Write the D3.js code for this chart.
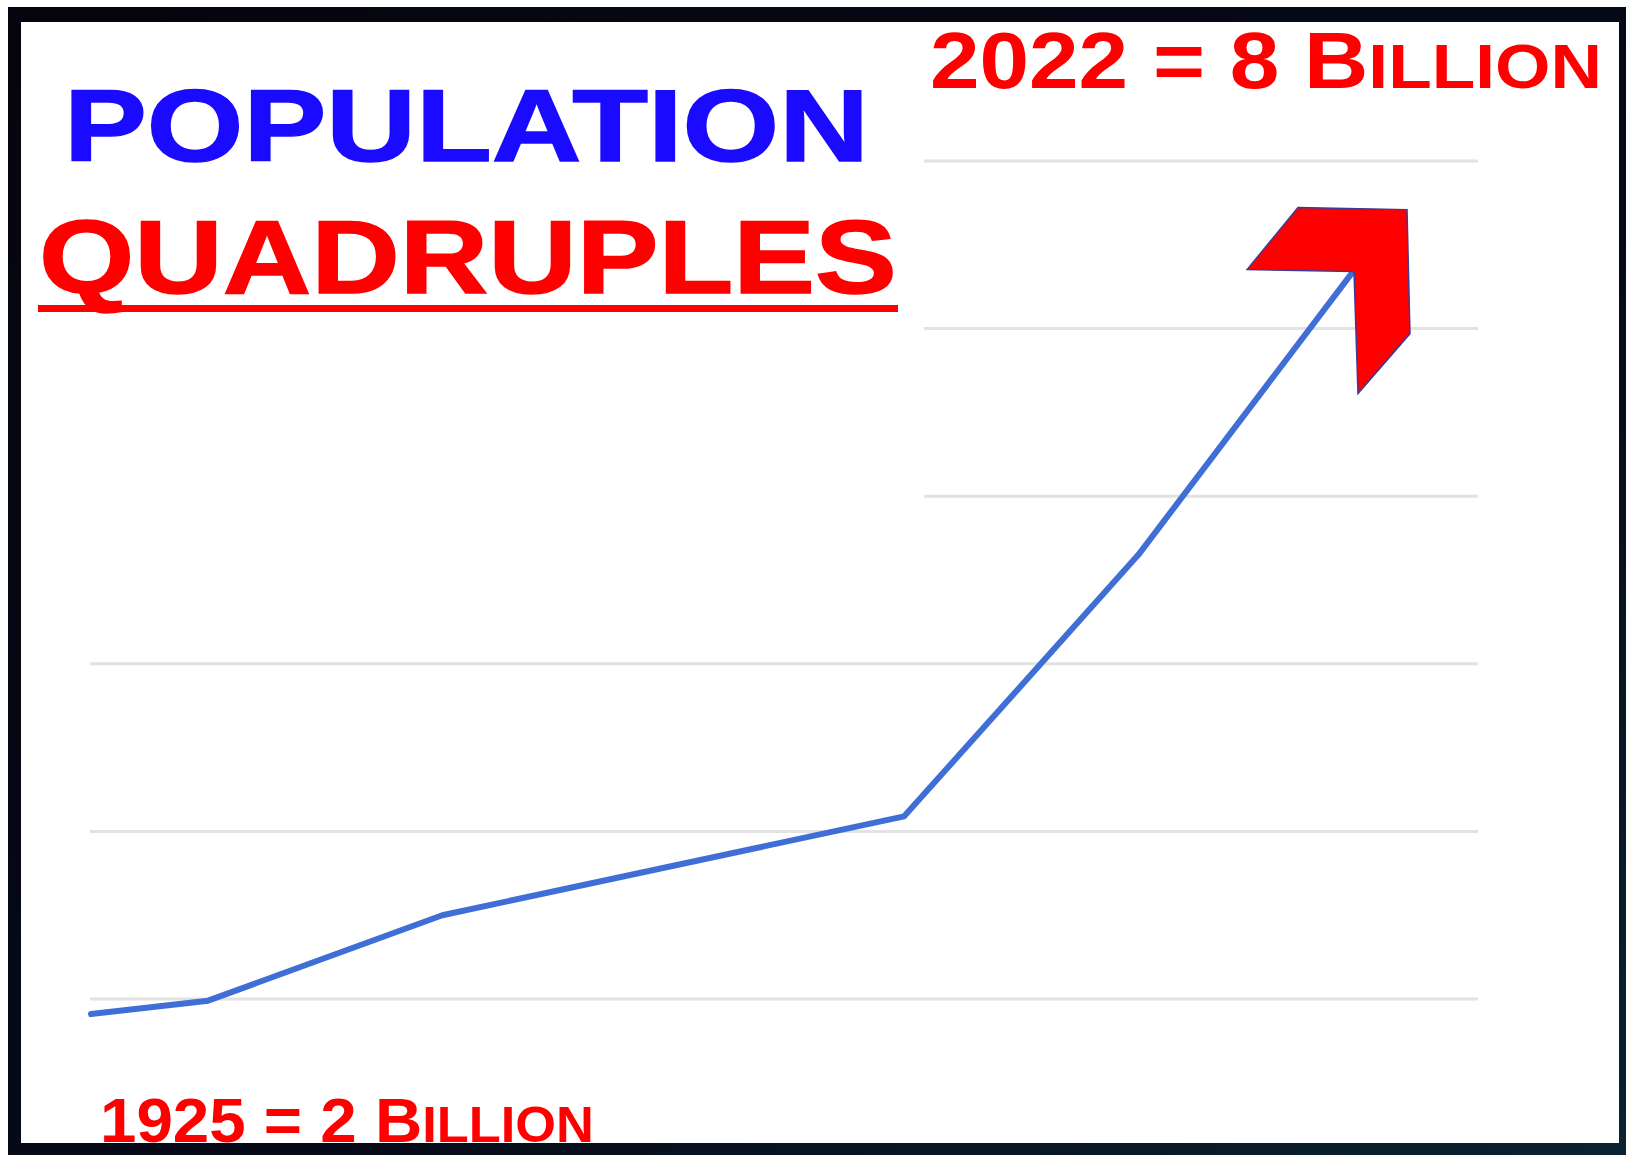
<!DOCTYPE html>
<html>
<head>
<meta charset="utf-8">
<script src="https://cdn.jsdelivr.net/npm/d3@7"></script>
<style>
  html, body { margin: 0; padding: 0; background: #ffffff; }
  svg { display: block; }
</style>
</head>
<body>
<svg id="chart" width="1626" height="1155"></svg>
<script>
// ---- data ----
const years = [1925, 1934, 1952, 1987.5, 2005.5, 2022];
const population = [1.91, 1.99, 2.50, 3.09, 4.65, 6.34]; // billions (as drawn)
const gridTicks = [2, 3, 4, 5, 6, 7];
const titleLines = ["POPULATION", "QUADRUPLES"];
const topLabel = { big: "2022 = 8 B", small: "ILLION" };
const bottomLabel = { big: "1925 = 2 B", small: "ILLION" };

const W = 1626, H = 1155;
const svg = d3.select("#chart");

// frame
const defs = svg.append("defs");
const grad = defs.append("linearGradient").attr("id", "frameGrad")
  .attr("x1", 0).attr("y1", 0).attr("x2", 1).attr("y2", 1);
grad.append("stop").attr("offset", "0%").attr("stop-color", "#04050f");
grad.append("stop").attr("offset", "60%").attr("stop-color", "#060a18");
grad.append("stop").attr("offset", "100%").attr("stop-color", "#0b2230");
svg.append("rect").attr("x", 8).attr("y", 7).attr("width", W - 8).attr("height", H - 7)
  .attr("fill", "url(#frameGrad)");
svg.append("rect").attr("x", 21).attr("y", 22).attr("width", 1598).attr("height", 1121)
  .attr("fill", "#ffffff");

// scales
const x = d3.scaleLinear().domain([1925, 2022]).range([91, 1353]);
const y = d3.scaleLinear().domain([2, 7]).range([999, 161]);

// gridlines
svg.append("g").selectAll("line").data(gridTicks).join("line")
  .attr("x1", 90).attr("x2", 1478)
  .attr("y1", d => y(d)).attr("y2", d => y(d))
  .attr("stroke", "#e2e2e2").attr("stroke-width", 3);

// title text box (white fill hides gridlines behind it)
svg.append("rect").attr("x", 22).attr("y", 22).attr("width", 902).attr("height", 560)
  .attr("fill", "#ffffff");

function fitText(sel, targetWidth) {
  const node = sel.node();
  const w = node.getComputedTextLength();
  const x0 = +sel.attr("x");
  const k = targetWidth / w;
  sel.attr("transform", `translate(${x0},0) scale(${k},1) translate(${-x0},0)`);
}

const t1 = svg.append("text").attr("x", 64).attr("y", 161)
  .attr("font-family", "Liberation Sans, Arial, sans-serif").attr("font-weight", "bold")
  .attr("font-size", 102).attr("fill", "#1a0aff").attr("stroke", "#1a0aff").attr("stroke-width", 1.5)
  .text(titleLines[0]);
fitText(t1, 805);

const t2 = svg.append("text").attr("x", 39).attr("y", 293)
  .attr("font-family", "Liberation Sans, Arial, sans-serif").attr("font-weight", "bold")
  .attr("font-size", 104).attr("fill", "#ff0000").attr("stroke", "#ff0000").attr("stroke-width", 1.5)
  .text(titleLines[1]);
fitText(t2, 858);
svg.append("rect").attr("x", 38).attr("y", 305).attr("width", 860).attr("height", 7)
  .attr("fill", "#ff0000");

// small-caps labels
function smallCaps(lbl, x0, yb, size, ratio, target) {
  const t = svg.append("text").attr("x", x0).attr("y", yb)
    .attr("font-family", "Liberation Sans, Arial, sans-serif").attr("font-weight", "bold")
    .attr("fill", "#ff0000").attr("font-size", size);
  t.append("tspan").text(lbl.big);
  t.append("tspan").attr("font-size", size * ratio).text(lbl.small);
  fitText(t, target);
}
smallCaps(topLabel, 930, 88, 79, 0.8, 672);
smallCaps(bottomLabel, 100, 1142, 63, 0.8, 494);

// line
const line = d3.line().x((d, i) => x(years[i])).y(d => y(d));
svg.append("path").datum(population)
  .attr("d", line)
  .attr("fill", "none").attr("stroke", "#3f6fd6").attr("stroke-width", 6)
  .attr("stroke-linejoin", "round").attr("stroke-linecap", "round");

// arrow head at the last point
const lx = x(years[years.length - 1]), ly = y(population[population.length - 1]);
svg.append("path")
  .attr("d", "M" + [[-106, -2], [-55, -64], [54, -62], [57, 62], [5, 122], [1, 0]]
    .map(p => [lx + p[0], ly + p[1]].join(",")).join("L") + "Z")
  .attr("fill", "#ff0000").attr("stroke", "#3a3a9a").attr("stroke-width", 1.5)
  .attr("stroke-linejoin", "miter");
</script>
</body>
</html>
